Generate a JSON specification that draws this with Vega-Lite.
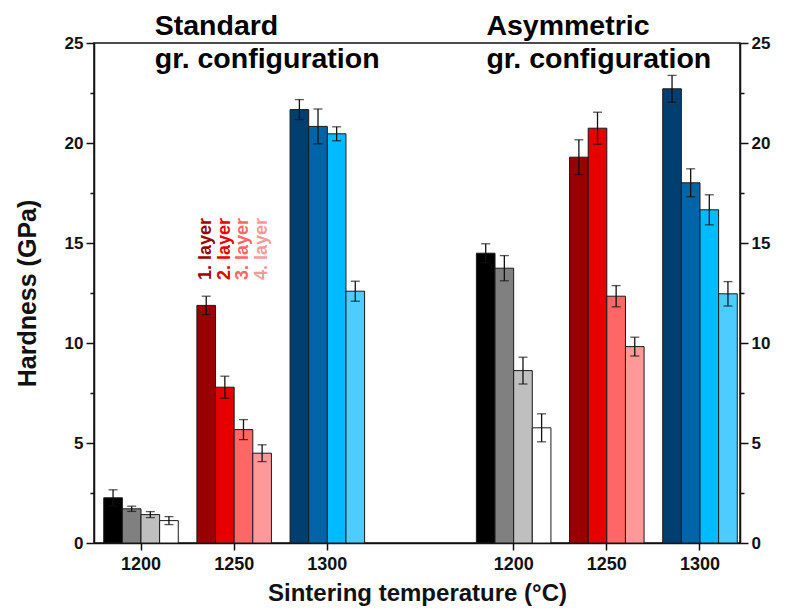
{
  "$schema": "https://vega.github.io/schema/vega-lite/v6.json",
  "width": 646,
  "height": 500,
  "autosize": {"type": "none"},
  "padding": {"left": 94, "top": 43, "right": 46, "bottom": 65},
  "background": "white",
  "config": {
    "font": "Liberation Sans",
    "view": {"stroke": "#111", "strokeWidth": 1.5},
    "axis": {
      "labelFont": "Liberation Sans",
      "labelFontWeight": "bold",
      "labelFontSize": 17,
      "labelColor": "#111",
      "titleFont": "Liberation Sans",
      "titleFontWeight": "bold",
      "titleFontSize": 24,
      "titleColor": "#111",
      "domainColor": "#111",
      "domainWidth": 1.5,
      "tickColor": "#111",
      "tickWidth": 1.5,
      "grid": false
    }
  },
  "data": {
    "values": [
      {"config": "Standard", "slot": "S1200", "temp": "1200", "layer": 1, "hardness": 2.26, "err": 0.4},
      {"config": "Standard", "slot": "S1200", "temp": "1200", "layer": 2, "hardness": 1.71, "err": 0.13},
      {"config": "Standard", "slot": "S1200", "temp": "1200", "layer": 3, "hardness": 1.42, "err": 0.15},
      {"config": "Standard", "slot": "S1200", "temp": "1200", "layer": 4, "hardness": 1.12, "err": 0.2},
      {"config": "Standard", "slot": "S1250", "temp": "1250", "layer": 1, "hardness": 11.88, "err": 0.46},
      {"config": "Standard", "slot": "S1250", "temp": "1250", "layer": 2, "hardness": 7.79, "err": 0.55},
      {"config": "Standard", "slot": "S1250", "temp": "1250", "layer": 3, "hardness": 5.67, "err": 0.5},
      {"config": "Standard", "slot": "S1250", "temp": "1250", "layer": 4, "hardness": 4.49, "err": 0.42},
      {"config": "Standard", "slot": "S1300", "temp": "1300", "layer": 1, "hardness": 21.67, "err": 0.5},
      {"config": "Standard", "slot": "S1300", "temp": "1300", "layer": 2, "hardness": 20.83, "err": 0.87},
      {"config": "Standard", "slot": "S1300", "temp": "1300", "layer": 3, "hardness": 20.46, "err": 0.35},
      {"config": "Standard", "slot": "S1300", "temp": "1300", "layer": 4, "hardness": 12.59, "err": 0.5},
      {"config": "Asymmetric", "slot": "A1200", "temp": "1200", "layer": 1, "hardness": 14.49, "err": 0.47},
      {"config": "Asymmetric", "slot": "A1200", "temp": "1200", "layer": 2, "hardness": 13.74, "err": 0.63},
      {"config": "Asymmetric", "slot": "A1200", "temp": "1200", "layer": 3, "hardness": 8.62, "err": 0.67},
      {"config": "Asymmetric", "slot": "A1200", "temp": "1200", "layer": 4, "hardness": 5.76, "err": 0.7},
      {"config": "Asymmetric", "slot": "A1250", "temp": "1250", "layer": 1, "hardness": 19.29, "err": 0.87},
      {"config": "Asymmetric", "slot": "A1250", "temp": "1250", "layer": 2, "hardness": 20.74, "err": 0.8},
      {"config": "Asymmetric", "slot": "A1250", "temp": "1250", "layer": 3, "hardness": 12.34, "err": 0.53},
      {"config": "Asymmetric", "slot": "A1250", "temp": "1250", "layer": 4, "hardness": 9.82, "err": 0.47},
      {"config": "Asymmetric", "slot": "A1300", "temp": "1300", "layer": 1, "hardness": 22.71, "err": 0.67},
      {"config": "Asymmetric", "slot": "A1300", "temp": "1300", "layer": 2, "hardness": 18.01, "err": 0.7},
      {"config": "Asymmetric", "slot": "A1300", "temp": "1300", "layer": 3, "hardness": 16.66, "err": 0.75},
      {"config": "Asymmetric", "slot": "A1300", "temp": "1300", "layer": 4, "hardness": 12.46, "err": 0.61}
    ]
  },
  "transform": [
    {"calculate": "datum.temp + '-' + datum.layer", "as": "key"},
    {"calculate": "datum.hardness - datum.err", "as": "lo"},
    {"calculate": "datum.hardness + datum.err", "as": "hi"}
  ],
  "resolve": {"axis": {"y": "independent"}},
  "encoding": {
    "x": {
      "field": "slot",
      "type": "nominal",
      "sort": null,
      "scale": {
        "domain": ["S1200", "S1250", "S1300", "gap", "A1200", "A1250", "A1300"],
        "paddingInner": 0.2,
        "paddingOuter": 0.067,
        "align": 0.78
      },
      "axis": {
        "title": "Sintering temperature (°C)",
        "labelAngle": 0,
        "labelFontSize": 18,
        "labelExpr": "datum.value == 'gap' ? '' : substring(datum.value, 1)",
        "tickOpacity": {"condition": {"test": "datum.value == 'gap'", "value": 0}, "value": 1},
        "tickSize": 7,
        "labelPadding": 5,
        "titlePadding": 8
      }
    },
    "xOffset": {"field": "layer", "type": "nominal", "scale": {"domain": [1, 2, 3, 4], "paddingInner": 0, "paddingOuter": 0}}
  },
  "layer": [
    {
      "mark": {"type": "bar", "stroke": "#1a1a1a", "strokeWidth": 1},
      "encoding": {
        "y": {
          "field": "hardness",
          "type": "quantitative",
          "scale": {"domain": [0, 25], "nice": false, "zero": true},
          "axis": {
            "orient": "left",
            "title": "Hardness (GPa)",
            "titleFontSize": 25,
            "values": [0, 2.5, 5, 7.5, 10, 12.5, 15, 17.5, 20, 22.5, 25],
            "labelExpr": "datum.value % 5 === 0 ? datum.label : ''",
            "tickSize": {"condition": {"test": "datum.value % 5 === 0", "value": 8}, "value": 4},
            "labelPadding": 3,
            "titlePadding": 24
          }
        },
        "color": {
          "field": "key",
          "type": "nominal",
          "legend": null,
          "scale": {
            "domain": ["1200-1", "1200-2", "1200-3", "1200-4", "1250-1", "1250-2", "1250-3", "1250-4", "1300-1", "1300-2", "1300-3", "1300-4"],
            "range": ["#000000", "#808080", "#bfbfbf", "#ffffff", "#990000", "#e60000", "#ff6666", "#ff9999", "#003f6f", "#0065a8", "#00bbff", "#4dcdff"]
          }
        }
      }
    },
    {
      "mark": {"type": "rule", "color": "#111", "strokeWidth": 1.3},
      "encoding": {
        "y": {
          "field": "lo",
          "type": "quantitative",
          "scale": {"domain": [0, 25], "nice": false},
          "axis": {
            "orient": "right",
            "title": null,
            "values": [0, 2.5, 5, 7.5, 10, 12.5, 15, 17.5, 20, 22.5, 25],
            "labelExpr": "datum.value % 5 === 0 ? datum.label : ''",
            "tickSize": {"condition": {"test": "datum.value % 5 === 0", "value": 8}, "value": 4},
            "labelPadding": 3
          }
        },
        "y2": {"field": "hi"}
      }
    },
    {
      "mark": {"type": "tick", "color": "#111", "size": 9, "thickness": 1.3},
      "encoding": {
        "y": {"field": "hi", "type": "quantitative", "scale": {"domain": [0, 25], "nice": false}, "axis": null}
      }
    },
    {
      "mark": {"type": "tick", "color": "#111", "size": 9, "thickness": 1.3},
      "encoding": {
        "y": {"field": "lo", "type": "quantitative", "scale": {"domain": [0, 25], "nice": false}, "axis": null}
      }
    },
    {
      "data": {
        "values": [
          {"slot": "S1250", "temp": "1250", "layer": 1, "pos": 13.15, "label": "1. layer"},
          {"slot": "S1250", "temp": "1250", "layer": 2, "pos": 13.15, "label": "2. layer"},
          {"slot": "S1250", "temp": "1250", "layer": 3, "pos": 13.15, "label": "3. layer"},
          {"slot": "S1250", "temp": "1250", "layer": 4, "pos": 13.15, "label": "4. layer"}
        ]
      },
      "transform": [{"calculate": "datum.temp + '-' + datum.layer", "as": "key"}],
      "mark": {"type": "text", "angle": 270, "align": "left", "baseline": "middle", "fontSize": 18, "fontWeight": "bold", "font": "Liberation Sans"},
      "encoding": {
        "y": {"field": "pos", "type": "quantitative", "scale": {"domain": [0, 25], "nice": false}, "axis": null},
        "text": {"field": "label"},
        "color": {"field": "key", "type": "nominal", "legend": null}
      }
    },
    {
      "data": {"values": [{"slot": "S1200", "pos": 25.4, "label": "Standard\ngr. configuration"}]},
      "mark": {"type": "text", "align": "left", "baseline": "alphabetic", "dx": 51, "fontSize": 28.5, "fontWeight": "bold", "font": "Liberation Sans", "lineBreak": "\n", "lineHeight": 33, "color": "#000"},
      "encoding": {
        "xOffset": {"value": 0},
        "y": {"field": "pos", "type": "quantitative", "scale": {"domain": [0, 25], "nice": false}, "axis": null},
        "text": {"field": "label"}
      }
    },
    {
      "data": {"values": [{"slot": "A1200", "pos": 25.4, "label": "Asymmetric\ngr. configuration"}]},
      "mark": {"type": "text", "align": "left", "baseline": "alphabetic", "dx": 10, "fontSize": 28.5, "fontWeight": "bold", "font": "Liberation Sans", "lineBreak": "\n", "lineHeight": 33, "color": "#000"},
      "encoding": {
        "xOffset": {"value": 0},
        "y": {"field": "pos", "type": "quantitative", "scale": {"domain": [0, 25], "nice": false}, "axis": null},
        "text": {"field": "label"}
      }
    }
  ]
}
